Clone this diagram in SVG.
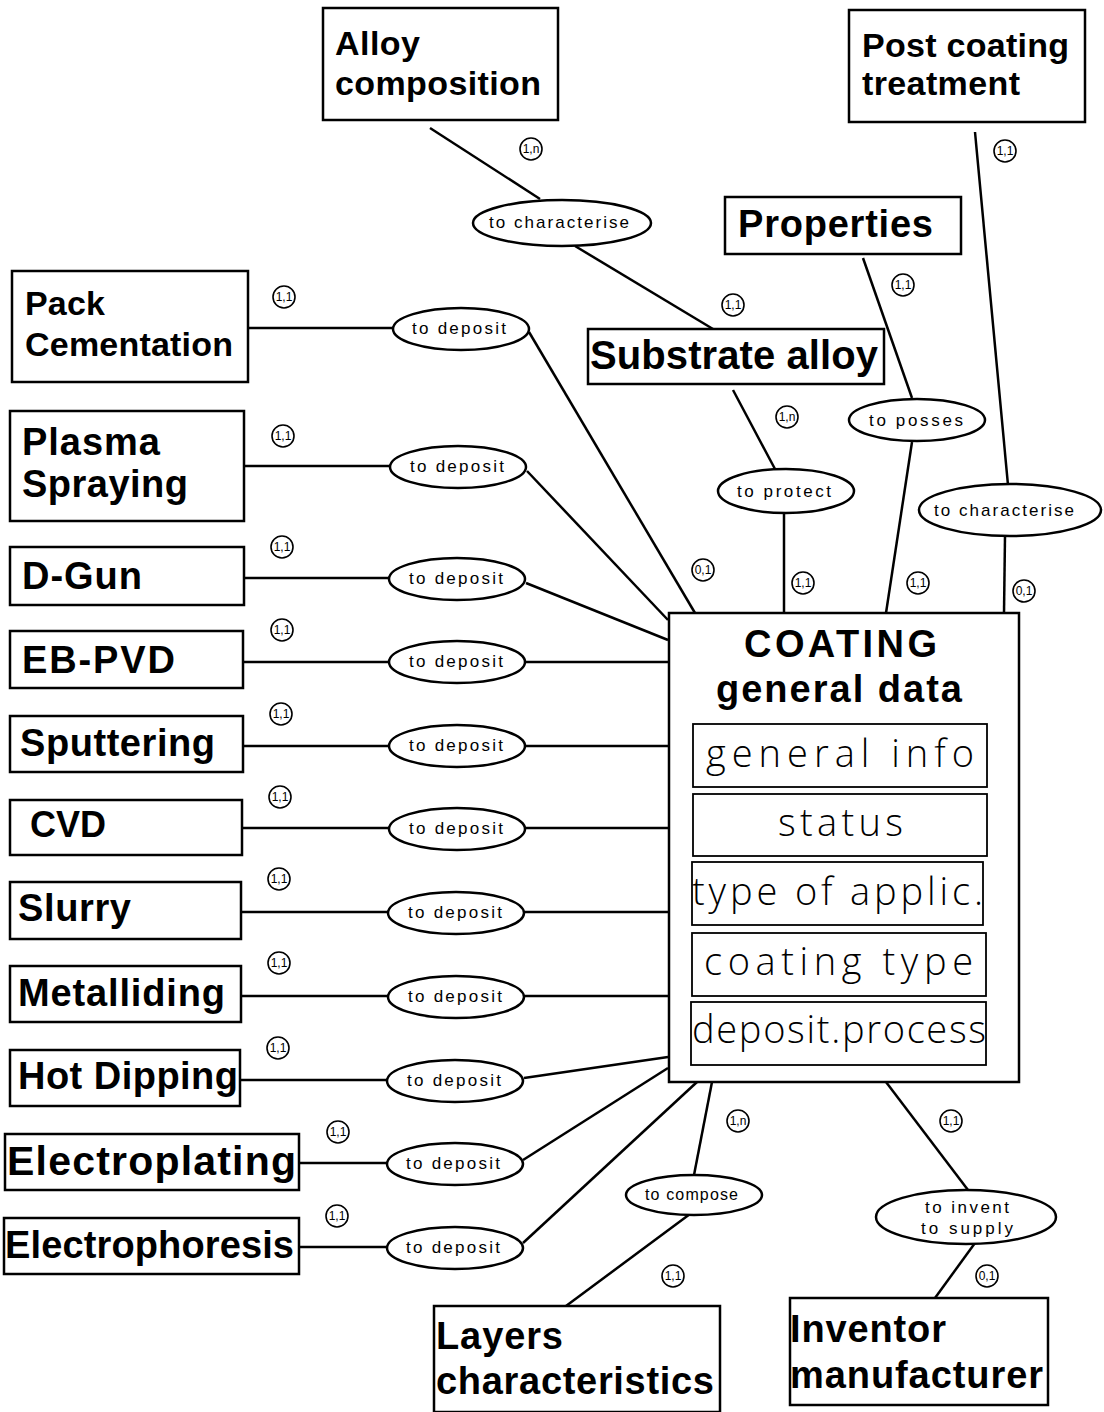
<svg xmlns="http://www.w3.org/2000/svg" width="1104" height="1412" viewBox="0 0 1104 1412">
<style>
.box{fill:#fff;stroke:#000;stroke-width:2.5}
.in{fill:#fff;stroke:#000;stroke-width:1.8}
.rel{fill:#fff;stroke:#000;stroke-width:2.5}
.ln{stroke:#000;stroke-width:2.5;fill:none}
.ent{font-family:"Liberation Sans",Arial,sans-serif;font-weight:bold;font-size:38px;fill:#000}
.attr{font-family:"Open Sans","DejaVu Sans",sans-serif;font-weight:300;font-size:38px;fill:#000}
.rl{font-family:"Liberation Sans",Arial,sans-serif;font-size:17px;fill:#000}
.cc{fill:#fff;stroke:#000;stroke-width:1.6}
.ct{font-family:"Liberation Sans",Arial,sans-serif;font-size:12px;fill:#000;text-anchor:middle}
</style>
<rect width="1104" height="1412" fill="#fff"/>
<g id="connectors">
<line class="ln" x1="430" y1="128" x2="540" y2="199"/>
<line class="ln" x1="575" y1="246" x2="713" y2="329"/>
<line class="ln" x1="733" y1="390" x2="775" y2="469"/>
<line class="ln" x1="784" y1="514" x2="784" y2="613"/>
<line class="ln" x1="863" y1="258" x2="912" y2="398"/>
<line class="ln" x1="912" y1="442" x2="886" y2="613"/>
<line class="ln" x1="975" y1="132" x2="1008" y2="485"/>
<line class="ln" x1="1005" y1="536" x2="1004" y2="613"/>
<line class="ln" x1="248" y1="328" x2="393" y2="328"/>
<line class="ln" x1="529" y1="332" x2="695" y2="613"/>
<line class="ln" x1="244" y1="466" x2="390" y2="466"/>
<line class="ln" x1="527" y1="471" x2="668" y2="620"/>
<line class="ln" x1="244" y1="578" x2="389" y2="578"/>
<line class="ln" x1="526" y1="583" x2="668" y2="640"/>
<line class="ln" x1="243" y1="662" x2="389" y2="662"/>
<line class="ln" x1="526" y1="662" x2="668" y2="662"/>
<line class="ln" x1="243" y1="746" x2="389" y2="746"/>
<line class="ln" x1="526" y1="746" x2="668" y2="746"/>
<line class="ln" x1="242" y1="828" x2="389" y2="828"/>
<line class="ln" x1="526" y1="828" x2="668" y2="828"/>
<line class="ln" x1="241" y1="912" x2="388" y2="912"/>
<line class="ln" x1="525" y1="912" x2="668" y2="912"/>
<line class="ln" x1="241" y1="996" x2="388" y2="996"/>
<line class="ln" x1="525" y1="996" x2="668" y2="996"/>
<line class="ln" x1="240" y1="1080" x2="387" y2="1080"/>
<line class="ln" x1="524" y1="1078" x2="668" y2="1057"/>
<line class="ln" x1="299" y1="1163" x2="386" y2="1163"/>
<line class="ln" x1="523" y1="1160" x2="668" y2="1068"/>
<line class="ln" x1="299" y1="1247" x2="386" y2="1247"/>
<line class="ln" x1="523" y1="1243" x2="697" y2="1082"/>
<line class="ln" x1="712" y1="1082" x2="694" y2="1175"/>
<line class="ln" x1="690" y1="1214" x2="566" y2="1306"/>
<line class="ln" x1="886" y1="1082" x2="968" y2="1190"/>
<line class="ln" x1="975" y1="1243" x2="935" y2="1298"/>
</g>
<g id="card">
<circle class="cc" cx="531" cy="149" r="11"/><text class="ct" x="531" y="153">1,n</text>
<circle class="cc" cx="733" cy="305" r="11"/><text class="ct" x="733" y="309">1,1</text>
<circle class="cc" cx="787" cy="417" r="11"/><text class="ct" x="787" y="421">1,n</text>
<circle class="cc" cx="803" cy="583" r="11"/><text class="ct" x="803" y="587">1,1</text>
<circle class="cc" cx="903" cy="285" r="11"/><text class="ct" x="903" y="289">1,1</text>
<circle class="cc" cx="918" cy="583" r="11"/><text class="ct" x="918" y="587">1,1</text>
<circle class="cc" cx="1005" cy="151" r="11"/><text class="ct" x="1005" y="155">1,1</text>
<circle class="cc" cx="1024" cy="591" r="11"/><text class="ct" x="1024" y="595">0,1</text>
<circle class="cc" cx="703" cy="570" r="11"/><text class="ct" x="703" y="574">0,1</text>
<circle class="cc" cx="284" cy="297" r="11"/><text class="ct" x="284" y="301">1,1</text>
<circle class="cc" cx="283" cy="436" r="11"/><text class="ct" x="283" y="440">1,1</text>
<circle class="cc" cx="282" cy="547" r="11"/><text class="ct" x="282" y="551">1,1</text>
<circle class="cc" cx="282" cy="630" r="11"/><text class="ct" x="282" y="634">1,1</text>
<circle class="cc" cx="281" cy="714" r="11"/><text class="ct" x="281" y="718">1,1</text>
<circle class="cc" cx="280" cy="797" r="11"/><text class="ct" x="280" y="801">1,1</text>
<circle class="cc" cx="279" cy="879" r="11"/><text class="ct" x="279" y="883">1,1</text>
<circle class="cc" cx="279" cy="963" r="11"/><text class="ct" x="279" y="967">1,1</text>
<circle class="cc" cx="278" cy="1048" r="11"/><text class="ct" x="278" y="1052">1,1</text>
<circle class="cc" cx="338" cy="1132" r="11"/><text class="ct" x="338" y="1136">1,1</text>
<circle class="cc" cx="337" cy="1216" r="11"/><text class="ct" x="337" y="1220">1,1</text>
<circle class="cc" cx="738" cy="1121" r="11"/><text class="ct" x="738" y="1125">1,n</text>
<circle class="cc" cx="673" cy="1276" r="11"/><text class="ct" x="673" y="1280">1,1</text>
<circle class="cc" cx="951" cy="1121" r="11"/><text class="ct" x="951" y="1125">1,1</text>
<circle class="cc" cx="987" cy="1276" r="11"/><text class="ct" x="987" y="1280">0,1</text>
</g>
<g id="rel-char1"><ellipse class="rel" cx="562" cy="223" rx="89" ry="23"/><text class="rl" x="489" y="228" textLength="140">to  characterise</text></g>
<g id="rel-protect"><ellipse class="rel" cx="786" cy="491" rx="68" ry="22"/><text class="rl" x="737" y="497" textLength="94">to  protect</text></g>
<g id="rel-posses"><ellipse class="rel" cx="917" cy="420" rx="68" ry="21"/><text class="rl" x="869" y="426" textLength="94">to  posses</text></g>
<g id="rel-char2"><ellipse class="rel" cx="1010" cy="510" rx="91" ry="26"/><text class="rl" x="934" y="516" textLength="140">to  characterise</text></g>
<g id="rel-d1"><ellipse class="rel" cx="461" cy="329" rx="68" ry="21"/><text class="rl" x="412" y="334" textLength="94">to  deposit</text></g>
<g id="rel-d2"><ellipse class="rel" cx="458" cy="467" rx="68" ry="21"/><text class="rl" x="410" y="472" textLength="94">to  deposit</text></g>
<g id="rel-d3"><ellipse class="rel" cx="457" cy="579" rx="68" ry="21"/><text class="rl" x="409" y="584" textLength="94">to  deposit</text></g>
<g id="rel-d4"><ellipse class="rel" cx="457" cy="662" rx="68" ry="21"/><text class="rl" x="409" y="667" textLength="94">to  deposit</text></g>
<g id="rel-d5"><ellipse class="rel" cx="457" cy="746" rx="68" ry="21"/><text class="rl" x="409" y="751" textLength="94">to  deposit</text></g>
<g id="rel-d6"><ellipse class="rel" cx="457" cy="829" rx="68" ry="21"/><text class="rl" x="409" y="834" textLength="94">to  deposit</text></g>
<g id="rel-d7"><ellipse class="rel" cx="456" cy="913" rx="68" ry="21"/><text class="rl" x="408" y="918" textLength="94">to  deposit</text></g>
<g id="rel-d8"><ellipse class="rel" cx="456" cy="997" rx="68" ry="21"/><text class="rl" x="408" y="1002" textLength="94">to  deposit</text></g>
<g id="rel-d9"><ellipse class="rel" cx="455" cy="1081" rx="68" ry="21"/><text class="rl" x="407" y="1086" textLength="94">to  deposit</text></g>
<g id="rel-d10"><ellipse class="rel" cx="455" cy="1164" rx="68" ry="21"/><text class="rl" x="406" y="1169" textLength="94">to  deposit</text></g>
<g id="rel-d11"><ellipse class="rel" cx="455" cy="1248" rx="68" ry="21"/><text class="rl" x="406" y="1253" textLength="94">to  deposit</text></g>
<g id="rel-compose"><ellipse class="rel" cx="694" cy="1195" rx="68" ry="20"/><text class="rl" x="645" y="1200" style="font-size:16px" textLength="93">to  compose</text></g>
<g id="rel-invent"><ellipse class="rel" cx="966" cy="1217" rx="90" ry="27"/><text class="rl" x="925" y="1213" textLength="84">to  invent</text><text class="rl" x="921" y="1234" textLength="92">to  supply</text></g>
<g id="alloy-composition"><rect class="box" x="323" y="8" width="235" height="112"/><text class="ent" x="335" y="55" style="font-size:34px" textLength="85">Alloy</text><text class="ent" x="335" y="95" style="font-size:34px" textLength="206">composition</text></g>
<g id="post-coating"><rect class="box" x="849" y="10" width="236" height="112"/><text class="ent" x="862" y="57" style="font-size:34px" textLength="207">Post coating</text><text class="ent" x="862" y="95" style="font-size:34px" textLength="158">treatment</text></g>
<g id="properties"><rect class="box" x="725" y="197" width="236" height="57"/><text class="ent" x="738" y="237" textLength="195">Properties</text></g>
<g id="substrate"><rect class="box" x="588" y="329" width="296" height="55"/><text class="ent" x="590" y="369" style="font-size:40px" textLength="288">Substrate alloy</text></g>
<g id="pack"><rect class="box" x="12" y="271" width="236" height="111"/><text class="ent" x="25" y="315" style="font-size:34px" textLength="80">Pack</text><text class="ent" x="25" y="356" style="font-size:34px" textLength="208">Cementation</text></g>
<g id="plasma"><rect class="box" x="10" y="411" width="234" height="110"/><text class="ent" x="22" y="455" textLength="138">Plasma</text><text class="ent" x="22" y="497" textLength="166">Spraying</text></g>
<g id="dgun"><rect class="box" x="10" y="547" width="234" height="58"/><text class="ent" x="22" y="589" textLength="120">D-Gun</text></g>
<g id="ebpvd"><rect class="box" x="10" y="631" width="233" height="57"/><text class="ent" x="22" y="673" textLength="153">EB-PVD</text></g>
<g id="sputtering"><rect class="box" x="10" y="716" width="233" height="56"/><text class="ent" x="20" y="756" textLength="195">Sputtering</text></g>
<g id="cvd"><rect class="box" x="10" y="800" width="232" height="55"/><text class="ent" x="30" y="837" style="font-size:36px" textLength="76">CVD</text></g>
<g id="slurry"><rect class="box" x="10" y="882" width="231" height="57"/><text class="ent" x="18" y="921" textLength="113">Slurry</text></g>
<g id="metalliding"><rect class="box" x="10" y="966" width="231" height="56"/><text class="ent" x="18" y="1006" textLength="207">Metalliding</text></g>
<g id="hotdipping"><rect class="box" x="10" y="1050" width="230" height="56"/><text class="ent" x="18" y="1089" textLength="220">Hot Dipping</text></g>
<g id="electroplating"><rect class="box" x="5" y="1134" width="294" height="56"/><text class="ent" x="7" y="1175" style="font-size:41px" textLength="289">Electroplating</text></g>
<g id="electrophoresis"><rect class="box" x="4" y="1218" width="295" height="56"/><text class="ent" x="5" y="1258" textLength="289">Electrophoresis</text></g>
<g id="coating"><rect class="box" x="669" y="613" width="350" height="469"/>
<text class="ent" x="744" y="657" textLength="193">COATING</text>
<text class="ent" x="716" y="702" textLength="246">general data</text>
<rect class="in" x="693" y="724" width="294" height="63"/><text class="attr" x="706" y="767" textLength="268">general  info</text>
<rect class="in" x="693" y="794" width="294" height="62"/><text class="attr" x="778" y="836" textLength="125">status</text>
<rect class="in" x="692" y="862" width="291" height="63"/><text class="attr" x="692" y="905" textLength="291">type  of  applic.</text>
<rect class="in" x="692" y="933" width="294" height="63"/><text class="attr" x="704" y="975" textLength="269">coating  type</text>
<rect class="in" x="691" y="1002" width="295" height="63"/><text class="attr" x="692" y="1043" textLength="294">deposit.process</text>
</g>
<g id="layers"><rect class="box" x="434" y="1306" width="286" height="106"/><text class="ent" x="436" y="1349" textLength="127">Layers</text><text class="ent" x="436" y="1394" textLength="278">characteristics</text></g>
<g id="inventor"><rect class="box" x="790" y="1298" width="258" height="107"/><text class="ent" x="790" y="1342" textLength="156">Inventor</text><text class="ent" x="790" y="1388" textLength="253">manufacturer</text></g>
</svg>
